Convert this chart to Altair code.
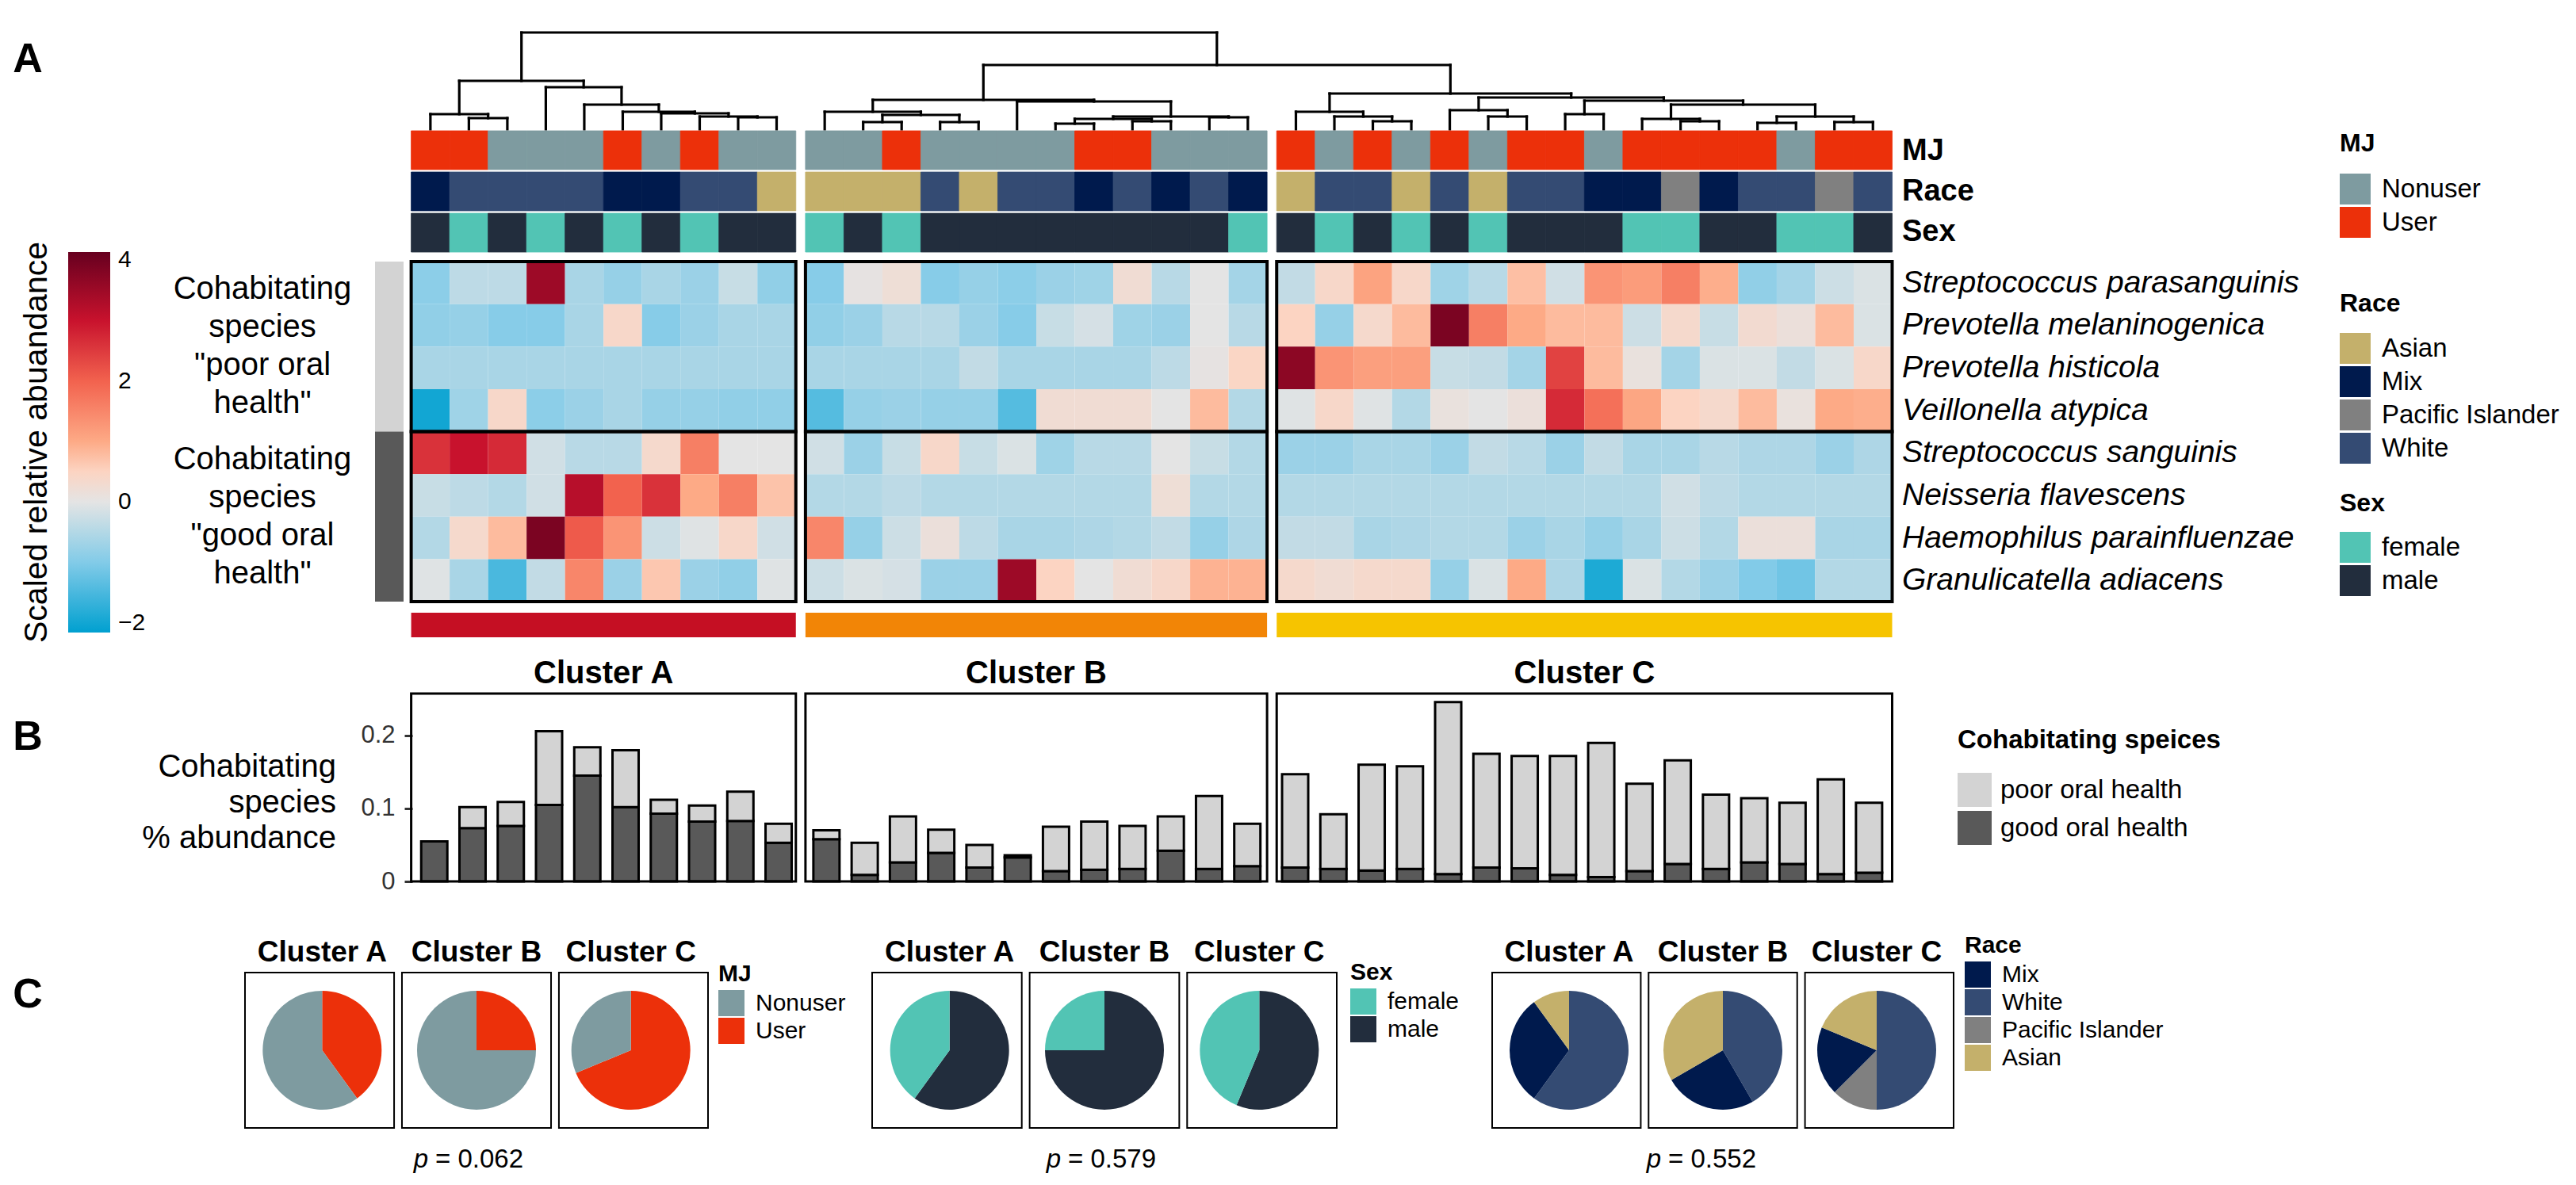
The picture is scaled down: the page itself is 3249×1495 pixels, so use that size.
import altair as alt
import pandas as pd

FONT = "Liberation Sans"


def V(o):
    # reference-image pixel -> chart view pixel (page margin is 8px)
    return o - 8


# ------------------------------------------------------------------ data
cluster_names = ["Cluster A", "Cluster B", "Cluster C"]

mj_A = ["User", "User", "Nonuser", "Nonuser", "Nonuser", "User", "Nonuser", "User", "Nonuser", "Nonuser"]
mj_B = ["Nonuser", "Nonuser", "User", "Nonuser", "Nonuser", "Nonuser", "Nonuser", "User", "User",
        "Nonuser", "Nonuser", "Nonuser"]
mj_C = ["User", "Nonuser", "User", "Nonuser", "User", "Nonuser", "User", "User", "Nonuser", "User",
        "User", "User", "User", "Nonuser", "User", "User"]

race_A = ["Mix", "White", "White", "White", "White", "Mix", "Mix", "White", "White", "Asian"]
race_B = ["Asian", "Asian", "Asian", "White", "Asian", "White", "White", "Mix", "White", "Mix", "White", "Mix"]
race_C = ["Asian", "White", "White", "Asian", "White", "Asian", "White", "White", "Mix", "Mix",
          "Pacific Islander", "Mix", "White", "White", "Pacific Islander", "White"]

sex_A = ["male", "female", "male", "female", "male", "female", "male", "female", "male", "male"]
sex_B = ["female", "male", "female", "male", "male", "male", "male", "male", "male", "male", "male", "female"]
sex_C = ["male", "female", "male", "female", "male", "female", "male", "male", "male", "female",
         "female", "male", "male", "female", "female", "male"]

species = ["Streptococcus parasanguinis", "Prevotella melaninogenica", "Prevotella histicola",
           "Veillonella atypica", "Streptococcus sanguinis", "Neisseria flavescens",
           "Haemophilus parainfluenzae", "Granulicatella adiacens"]
species_group = ["poor", "poor", "poor", "poor", "good", "good", "good", "good"]
group_names = ["poor", "good"]
group_labels = ['Cohabitating\nspecies\n"poor oral\nhealth"', 'Cohabitating\nspecies\n"good oral\nhealth"']

heat_s_parasanguinis = [-0.9, -0.4, -0.4, 3.5, -0.6, -0.8, -0.6, -0.75, -0.3, -0.85,
                        -0.95, 0.05, 0.2, -0.95, -0.8, -0.9, -0.75, -0.7, 0.25, -0.45, 0.0, -0.65,
                        -0.35, 0.4, 1.1, 0.4, -0.7, -0.45, 0.75, -0.2, 1.3, 1.2, 1.6, 0.95, -0.85, -0.65, -0.25, -0.1]
heat_p_melaninogenica = [-0.85, -0.8, -0.95, -0.95, -0.6, 0.4, -0.95, -0.75, -0.6, -0.6,
                         -0.85, -0.75, -0.45, -0.45, -0.75, -0.95, -0.3, -0.15, -0.7, -0.75, 0.0, -0.45,
                         0.5, -0.8, 0.35, 0.8, 3.9, 1.6, 1.0, 0.8, 0.8, -0.25, 0.35, -0.3, 0.3, 0.15, 0.8, -0.1]
heat_p_histicola = [-0.6, -0.6, -0.6, -0.6, -0.6, -0.6, -0.6, -0.6, -0.6, -0.6,
                    -0.6, -0.6, -0.6, -0.6, -0.35, -0.6, -0.6, -0.6, -0.6, -0.4, 0.05, 0.45,
                    3.7, 1.3, 1.15, 1.15, -0.3, -0.35, -0.65, 2.4, 0.8, 0.1, -0.65, -0.1, -0.1, -0.35, -0.1, 0.4]
heat_v_atypica = [-2.0, -0.7, 0.4, -0.9, -0.75, -0.6, -0.8, -0.8, -0.85, -0.85,
                  -1.4, -0.8, -0.75, -0.8, -0.8, -1.4, 0.25, 0.25, 0.25, 0.0, 0.8, -0.5,
                  -0.05, 0.4, -0.05, -0.5, 0.1, 0.0, 0.15, 2.7, 1.8, 1.05, 0.5, 0.35, 0.8, 0.1, 1.0, 0.95]
heat_s_sanguinis = [2.6, 3.0, 2.7, -0.2, -0.45, -0.45, 0.35, 1.6, 0.0, 0.0,
                    -0.2, -0.75, -0.3, 0.4, -0.3, -0.1, -0.7, -0.45, -0.45, 0.0, -0.3, -0.5,
                    -0.75, -0.75, -0.6, -0.6, -0.75, -0.35, -0.45, -0.75, -0.35, -0.6, -0.6, -0.45, -0.55, -0.55, -0.75, -0.55]
heat_n_flavescens = [-0.3, -0.4, -0.5, -0.2, 3.2, 2.0, 2.6, 1.0, 1.6, 0.7,
                     -0.5, -0.5, -0.4, -0.5, -0.5, -0.5, -0.5, -0.5, -0.5, 0.2, -0.5, -0.5,
                     -0.5, -0.5, -0.5, -0.5, -0.5, -0.5, -0.5, -0.5, -0.5, -0.5, -0.2, -0.4, -0.5, -0.5, -0.5, -0.5]
heat_h_parainfluenzae = [-0.5, 0.35, 0.8, 3.9, 2.1, 1.3, -0.25, -0.05, 0.4, -0.2,
                         1.5, -0.8, -0.25, 0.15, -0.4, -0.6, -0.6, -0.55, -0.5, -0.35, -0.8, -0.55,
                         -0.35, -0.35, -0.6, -0.55, -0.5, -0.5, -0.75, -0.6, -0.8, -0.6, -0.25, -0.5, 0.15, 0.15, -0.6, -0.6]
heat_g_adiacens = [-0.05, -0.6, -1.5, -0.35, 1.5, -0.75, 0.65, -0.75, -0.85, -0.05,
                   -0.25, -0.1, -0.15, -0.75, -0.75, 3.5, 0.5, 0.0, 0.25, 0.4, 0.9, 0.9,
                   0.35, 0.25, 0.35, 0.35, -0.8, -0.1, 1.0, -0.55, -1.9, -0.1, -0.5, -0.75, -1.0, -1.15, -0.5, -0.5]

good_pct = [0.055, 0.073, 0.076, 0.105, 0.145, 0.102, 0.093, 0.082, 0.083, 0.053,
            0.058, 0.009, 0.026, 0.039, 0.019, 0.033, 0.014, 0.016, 0.017, 0.042, 0.017, 0.021,
            0.019, 0.017, 0.015, 0.017, 0.010, 0.019, 0.018, 0.009, 0.006, 0.014, 0.024, 0.017, 0.026, 0.024, 0.010, 0.012]
poor_pct = [0.000, 0.029, 0.033, 0.101, 0.039, 0.078, 0.019, 0.022, 0.040, 0.026,
            0.012, 0.044, 0.063, 0.032, 0.031, 0.003, 0.061, 0.066, 0.059, 0.047, 0.100, 0.058,
            0.128, 0.075, 0.145, 0.141, 0.236, 0.156, 0.154, 0.163, 0.184, 0.120, 0.142, 0.102, 0.088, 0.084, 0.130, 0.096]

# dendrogram merges: (node, left child, right child, merge height); leaves are sample indices 0..37
merges = [
    ("a1", 1, 2, 1.4), ("a2", 0, "a1", 1.9), ("a3", 8, 9, 1.5), ("a4", 7, "a3", 1.6),
    ("a5", 6, "a4", 2.0), ("a6", 5, "a5", 2.2), ("a7", 4, "a6", 3.1), ("a8", 3, "a7", 5.3),
    ("mA", "a2", "a8", 6.1),
    ("b1", 11, 12, 0.9), ("b2", 13, 14, 0.9), ("b3", "b1", "b2", 1.8), ("b4", 10, "b3", 2.2),
    ("b5", 16, 17, 0.7), ("b6", 18, 19, 1.0), ("b7", "b5", "b6", 1.3), ("b8", 20, 21, 1.5),
    ("b9", "b7", "b8", 1.6), ("b10", 15, "b9", 3.5), ("mB", "b4", "b10", 3.7),
    ("c1", 24, 25, 1.0), ("c2", 23, "c1", 1.6), ("c3", 22, "c2", 2.2), ("c4", 27, 28, 1.6),
    ("c5", 26, "c4", 2.4), ("c6", 29, 30, 1.9), ("c7", 32, 33, 1.0), ("c8", 31, "c7", 1.3),
    ("c9", 34, 35, 0.8), ("c10", 36, 37, 0.9), ("c11", "c9", "c10", 1.6), ("c12", "c8", "c11", 3.1),
    ("c13", "c6", "c12", 3.6), ("c14", "c5", "c13", 4.0), ("mC", "c3", "c14", 4.5),
    ("mBC", "mB", "mC", 8.1), ("root", "mA", "mBC", 12.2),
]

p_values = ["0.062", "0.579", "0.552"]
tick_values_b = [0, 0.1, 0.2]
legend_ticks_heat = [-2, 0, 2, 4]

# ------------------------------------------------------------------ styles
cluster_colors = ["#C50F23", "#F28506", "#F6C400"]
mj_dom, mj_rng = ["Nonuser", "User"], ["#7E9BA0", "#EC300A"]
race_dom, race_rng = ["Asian", "Mix", "Pacific Islander", "White"], ["#C4B06B", "#001A4D", "#808080", "#344B73"]
sex_dom, sex_rng = ["female", "male"], ["#52C4B4", "#222D3D"]
heat_dom = [-2.16, -1, 0, 0.5, 1, 2, 3, 4.13]
heat_rng = ["#00A0D0", "#82CBE8", "#E4E4E4", "#FCD4C2", "#FDAA86", "#F2624E", "#C8122D", "#67001F"]

# ------------------------------------------------------------------ tables
mj_by = [mj_A, mj_B, mj_C]
race_by = [race_A, race_B, race_C]
sex_by = [sex_A, sex_B, sex_C]

GAP = 0.25
recs, ext = [], []
off = 0.0
for ci, cname in enumerate(cluster_names):
    n = len(mj_by[ci])
    ext.append(dict(cluster=cname, x0=off, x1=off + n, xm=off + n / 2.0))
    for j in range(n):
        recs.append(dict(cluster=cname, pos=off + j, pos1=off + j + 1, mid=off + j + 0.5,
                         MJ=mj_by[ci][j], Race=race_by[ci][j], Sex=sex_by[ci][j]))
    off += n + GAP
X_TOTAL = off - GAP
samples = pd.DataFrame(recs)
samples["good"] = good_pct
samples["poor"] = poor_pct
clusters_df = pd.DataFrame(ext)

heat_rows = [heat_s_parasanguinis, heat_p_melaninogenica, heat_p_histicola, heat_v_atypica,
             heat_s_sanguinis, heat_n_flavescens, heat_h_parainfluenzae, heat_g_adiacens]
hrecs = []
for r, (sp, vals) in enumerate(zip(species, heat_rows)):
    for k, v in enumerate(vals):
        hrecs.append(dict(species=sp, r=r, r1=r + 1, pos=samples.pos[k], pos1=samples.pos1[k], value=v))
heat_df = pd.DataFrame(hrecs)
species_df = pd.DataFrame({"species": species, "rm": [i + 0.5 for i in range(len(species))]})

grecs = []
for gi, g in enumerate(group_names):
    rows = [i for i, s in enumerate(species_group) if s == g]
    grecs.append(dict(group=g, r0=min(rows), r1=max(rows) + 1, rm=(min(rows) + max(rows) + 1) / 2.0,
                      label=group_labels[gi]))
groups_df = pd.DataFrame(grecs)
frames_df = pd.DataFrame([dict(x0=c["x0"], x1=c["x1"], r0=g["r0"], r1=g["r1"]) for c in ext for g in grecs])

tracks = ["MJ", "Race", "Sex"]
track_df = samples.melt(id_vars=["pos", "pos1"], value_vars=tracks, var_name="track", value_name="category")

brecs = []
for _, s in samples.iterrows():
    brecs.append(dict(mid=s["mid"], y0=0.0, y1=s["good"], seg="good oral health"))
    brecs.append(dict(mid=s["mid"], y0=s["good"], y1=s["good"] + s["poor"], seg="poor oral health"))
bars_df = pd.DataFrame(brecs)

node = {i: (samples.mid[i], 0.0) for i in range(len(samples))}
vsegs, hsegs = [], []
for name, a, b, h in merges:
    xa, ya = node[a]
    xb, yb = node[b]
    vsegs += [dict(x=xa, y=ya, y2=h), dict(x=xb, y=yb, y2=h)]
    hsegs.append(dict(x=xa, x2=xb, y=h))
    node[name] = ((xa + xb) / 2.0, h)
vseg_df, hseg_df = pd.DataFrame(vsegs), pd.DataFrame(hsegs)

pie_specs = [("MJ", ["User", "Nonuser"]), ("Sex", ["male", "female"]),
             ("Race", ["White", "Pacific Islander", "Mix", "Asian"])]
precs = []
for field, order in pie_specs:
    for cname in cluster_names:
        sub = samples[samples.cluster == cname][field]
        n = len(sub)
        cum = 0
        for cat in order:
            c = int((sub == cat).sum())
            if c == 0:
                continue
            precs.append(dict(group=field, cluster=cname, category=cat, t0=cum / n, t1=(cum + c) / n))
            cum += c
pie_df = pd.DataFrame(precs)
clusters_only = pd.DataFrame({"cluster": cluster_names})

# ------------------------------------------------------------------ scales / helpers
def xs():
    return alt.Scale(domain=[0, X_TOTAL], range=[V(518.6), V(2386.5)], nice=False, zero=False)


def xq(f):
    return alt.X(f, type="quantitative", scale=xs(), axis=None)


DS = dict(domain=[0, 12.2], range=[V(163), V(41)], nice=False, zero=False)
HS = dict(domain=[0, len(species)], range=[V(330), V(759)], nice=False, zero=False)
BS = dict(domain=[0, 0.2576], range=[V(1112), V(875)], nice=False, zero=False)
TS = dict(domain=tracks, range=[V(165), V(318)], paddingInner=0.06, paddingOuter=0)


def sym_legend(title, x, y, sw, tsize, lsize, tpad, rpad, loff):
    return alt.Legend(title=title, orient="none", legendX=x, legendY=y, symbolType="square",
                      symbolSize=sw * sw, symbolStrokeWidth=0, symbolOpacity=1, padding=0,
                      titleFont=FONT, titleFontSize=tsize, titleFontWeight="bold", titleColor="black",
                      titleLimit=800, labelFont=FONT, labelFontSize=lsize, labelColor="black",
                      labelLimit=800, titlePadding=tpad, rowPadding=rpad, labelOffset=loff)


def txt(**kw):
    base = dict(font=FONT, color="black")
    base.update(kw)
    return base


layers = []

# ---- dendrogram
layers.append(alt.Chart(vseg_df).mark_rule(color="black", strokeWidth=3.2, strokeCap="square").encode(
    x=xq("x"), y=alt.Y("y:Q", scale=alt.Scale(**DS), axis=None), y2="y2"))
layers.append(alt.Chart(hseg_df).mark_rule(color="black", strokeWidth=3.2, strokeCap="square").encode(
    x=xq("x"), x2="x2", y=alt.Y("y:Q", scale=alt.Scale(**DS), axis=None)))

# ---- annotation tracks (legend title y, title padding)
track_specs = [("MJ", mj_dom, mj_rng, V(182) - 16, 21), ("Race", race_dom, race_rng, V(384) - 16, 20),
               ("Sex", sex_dom, sex_rng, V(636) - 16, 19)]
for t, dom, rng, ly, tp in track_specs:
    layers.append(alt.Chart(track_df).transform_filter(alt.datum.track == t).mark_rect(strokeWidth=0.8).encode(
        x=xq("pos"), x2="pos1",
        y=alt.Y("track:N", scale=alt.Scale(**TS), axis=None),
        color=alt.Color("category:N", scale=alt.Scale(domain=dom, range=rng),
                        legend=sym_legend(t, V(2951), ly, 39, 32, 33, tp, 3, 14)),
        stroke=alt.Stroke("category:N", scale=alt.Scale(domain=dom, range=rng), legend=None)))
layers.append(alt.Chart(pd.DataFrame({"track": tracks})).mark_text(
    **txt(align="left", baseline="middle", fontSize=38, fontWeight="bold")).encode(
    y=alt.Y("track:N", scale=alt.Scale(**TS), axis=None), x=alt.value(V(2399)), text="track:N"))

# ---- heatmap
layers.append(alt.Chart(heat_df).mark_rect().encode(
    x=xq("pos"), x2="pos1",
    y=alt.Y("r:Q", scale=alt.Scale(**HS), axis=None), y2="r1",
    color=alt.Color("value:Q", scale=alt.Scale(domain=heat_dom, range=heat_rng, interpolate="rgb"),
                    legend=alt.Legend(type="gradient", title=None, orient="none", legendX=V(86),
                                      legendY=V(318), direction="vertical", gradientLength=480,
                                      gradientThickness=53, values=legend_ticks_heat, labelFont=FONT,
                                      labelFontSize=30, labelColor="black", labelOffset=10, padding=0,
                                      gradientStrokeWidth=0))))
layers.append(alt.Chart(frames_df).mark_rect(fillOpacity=0, stroke="black", strokeWidth=4).encode(
    x=xq("x0"), x2="x1", y=alt.Y("r0:Q", scale=alt.Scale(**HS), axis=None), y2="r1"))
layers.append(alt.Chart(species_df).mark_text(
    **txt(align="left", baseline="middle", fontSize=39, fontStyle="italic")).encode(
    y=alt.Y("rm:Q", scale=alt.Scale(**HS), axis=None), x=alt.value(V(2399)), text="species:N"))

# left group bars + labels (4-line labels: first line is lifted 1.5 line heights)
layers.append(alt.Chart(groups_df).mark_rect().encode(
    x=alt.value(V(473)), x2=alt.value(V(509)),
    y=alt.Y("r0:Q", scale=alt.Scale(**HS), axis=None), y2="r1",
    color=alt.Color("group:N", scale=alt.Scale(domain=group_names, range=["#D3D3D3", "#595959"]), legend=None)))
layers.append(alt.Chart(groups_df).mark_text(
    **txt(align="center", baseline="middle", fontSize=40, lineHeight=48, lineBreak="\n", dy=-72)).encode(
    y=alt.Y("rm:Q", scale=alt.Scale(**HS), axis=None), x=alt.value(V(331)), text="label:N"))

# colour bar legend title and white tick dashes
layers.append(alt.Chart(pd.DataFrame({"t": ["Scaled relative abuandance"]})).mark_text(
    **txt(align="center", baseline="middle", fontSize=41, angle=270)).encode(
    x=alt.value(V(47)), y=alt.value(V(558)), text="t:N"))
GS = dict(domain=[heat_dom[0], heat_dom[-1]], range=[V(798), V(318)], nice=False, zero=False)
for xa, xb in [(86, 100), (125, 139)]:
    layers.append(alt.Chart(pd.DataFrame({"v": legend_ticks_heat})).mark_rule(color="white", strokeWidth=3).encode(
        x=alt.value(V(xa)), x2=alt.value(V(xb)), y=alt.Y("v:Q", scale=alt.Scale(**GS), axis=None)))

# ---- cluster bars and labels
layers.append(alt.Chart(clusters_df).mark_rect().encode(
    x=xq("x0"), x2="x1", y=alt.value(V(773)), y2=alt.value(V(804)),
    color=alt.Color("cluster:N", scale=alt.Scale(domain=cluster_names, range=cluster_colors), legend=None)))
layers.append(alt.Chart(clusters_df).mark_text(
    **txt(align="center", baseline="middle", fontSize=40, fontWeight="bold")).encode(
    x=xq("xm"), y=alt.value(V(850)), text="cluster:N"))

# ---- panel B bars
layers.append(alt.Chart(bars_df).mark_bar(width=33, stroke="black", strokeWidth=3).encode(
    x=xq("mid"),
    y=alt.Y("y0:Q", scale=alt.Scale(**BS),
            axis=alt.Axis(values=tick_values_b, format="~g", orient="left", offset=-V(520), domain=False,
                          grid=False, tickSize=10, tickWidth=3, tickColor="#333333", labelFont=FONT,
                          labelFontSize=31, labelColor="#333333", labelPadding=12, title=None)),
    y2="y1",
    color=alt.Color("seg:N", scale=alt.Scale(domain=["poor oral health", "good oral health"],
                                             range=["#D3D3D3", "#595959"]),
                    legend=sym_legend("Cohabitating speices", V(2469), V(935) - 17, 43, 33, 33, 24, 5, 11))))
layers.append(alt.Chart(clusters_df).mark_rect(fillOpacity=0, stroke="black", strokeWidth=3).encode(
    x=xq("x0"), x2="x1",
    y=alt.Y("y0:Q", scale=alt.Scale(**BS), axis=None), y2="y1").transform_calculate(
    y0="0", y1=str(BS["domain"][1])))
layers.append(alt.Chart(pd.DataFrame({"t": ["Cohabitating\nspecies\n% abundance"]})).mark_text(
    **txt(align="right", baseline="middle", fontSize=40, lineHeight=45, lineBreak="\n", dy=-45)).encode(
    x=alt.value(V(424)), y=alt.value(V(1013)), text="t:N"))

# ---- panel C pies
PIE_TOP, PIE_BOT = 1227, 1423
pie_layout = [
    ("MJ", mj_dom, mj_rng, (309, 893), (906, 1229)),
    ("Sex", sex_dom, sex_rng, (1100, 1686), (1703, 1227)),
    ("Race", ["Mix", "White", "Pacific Islander", "Asian"], ["#001A4D", "#344B73", "#808080", "#C4B06B"],
     (1882, 2464), (2478, 1193)),
]
for g, dom, rng, (xa, xb), (lx, ly) in pie_layout:
    PX = dict(domain=cluster_names, range=[V(xa), V(xb)], paddingInner=0.05, paddingOuter=0)
    layers.append(alt.Chart(pie_df).transform_filter(alt.datum.group == g).mark_arc(radius=75).encode(
        x=alt.X("cluster:N", scale=alt.Scale(**PX), axis=None),
        y=alt.value(V((PIE_TOP + PIE_BOT) / 2)),
        theta=alt.Theta("t0:Q", scale=alt.Scale(domain=[0, 1], range=[0, 6.283185307]), stack=False),
        theta2="t1",
        color=alt.Color("category:N", scale=alt.Scale(domain=dom, range=rng),
                        legend=sym_legend(g, V(lx), V(ly) - 15, 33, 30, 30, 5, 2, 14))))
    layers.append(alt.Chart(clusters_only).mark_rect(fillOpacity=0, stroke="black", strokeWidth=2).encode(
        x=alt.X("cluster:N", scale=alt.Scale(**PX), axis=None),
        y=alt.value(V(PIE_TOP)), y2=alt.value(V(PIE_BOT))))
    layers.append(alt.Chart(clusters_only).mark_text(
        **txt(align="center", baseline="middle", fontSize=37, fontWeight="bold")).encode(
        x=alt.X("cluster:N", scale=alt.Scale(**PX), axis=None), y=alt.value(V(1202)), text="cluster:N"))

pv_df = pd.DataFrame({"pv": ["= " + p for p in p_values], "p": ["p"] * 3, "cx": [590, 1388, 2145]})
for i in range(3):
    cx = pv_df.cx[i]
    sub = pv_df.iloc[[i]]
    layers.append(alt.Chart(sub).mark_text(**txt(align="right", baseline="middle", fontSize=33,
                                                 fontStyle="italic")).encode(
        x=alt.value(V(cx - 50)), y=alt.value(V(1463)), text="p:N"))
    layers.append(alt.Chart(sub).mark_text(**txt(align="left", baseline="middle", fontSize=33, dx=9)).encode(
        x=alt.value(V(cx - 50)), y=alt.value(V(1463)), text="pv:N"))

# ---- panel letters
for letter, ly in [("A", 75), ("B", 930), ("C", 1255)]:
    layers.append(alt.Chart(pd.DataFrame({"t": [letter]})).mark_text(
        **txt(align="center", baseline="middle", fontSize=52, fontWeight="bold")).encode(
        x=alt.value(V(35)), y=alt.value(V(ly)), text="t:N"))

chart = alt.layer(*layers).resolve_scale(
    x="independent", y="independent", color="independent", stroke="independent", theta="independent"
).properties(
    width=3233, height=1479, padding=0, autosize=alt.AutoSizeParams(type="none")
).configure(font=FONT).configure_view(strokeWidth=0)

chart.save("out.html", embed_options={"renderer": "svg", "actions": False})
